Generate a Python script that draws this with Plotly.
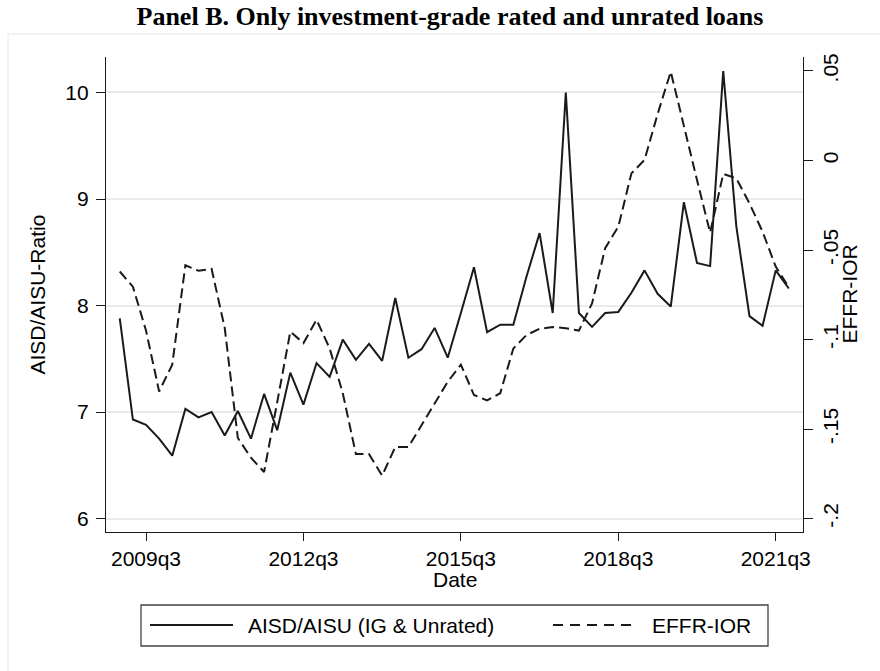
import plotly.graph_objects as go

# quarterly dates, 2009q1 .. 2021q4
quarters = [f"{y}q{q}" for y in range(2009, 2022) for q in range(1, 5)]

aisd_aisu = [7.88, 6.93, 6.88, 6.75, 6.59, 7.03, 6.95, 7.00, 6.78, 7.01,
             6.75, 7.17, 6.83, 7.37, 7.07, 7.46, 7.33, 7.68, 7.49, 7.64,
             7.48, 8.07, 7.51, 7.59, 7.79, 7.51, 7.93, 8.36, 7.75, 7.82,
             7.82, 8.27, 8.68, 7.93, 10.00, 7.93, 7.80, 7.93, 7.94, 8.12,
             8.33, 8.11, 7.99, 8.97, 8.40, 8.37, 10.20, 8.74, 7.90, 7.81,
             8.33, 8.16]

effr_ior = [-0.062, -0.0705, -0.095, -0.129, -0.114, -0.0585, -0.0616, -0.0606,
            -0.0935, -0.155, -0.166, -0.174, -0.135, -0.0956, -0.102, -0.089,
            -0.105, -0.130, -0.164, -0.164, -0.176, -0.160, -0.160, -0.148,
            -0.1357, -0.1236, -0.114, -0.131, -0.134, -0.130, -0.105, -0.0975,
            -0.094, -0.093, -0.0937, -0.095, -0.0798, -0.049, -0.037, -0.0072,
            0.0003, 0.026, 0.0496, 0.0189, -0.0109, -0.0403, -0.0075, -0.010,
            -0.024, -0.0398, -0.0593, -0.0708]

x_ticks = ["2009q3", "2012q3", "2015q3", "2018q3", "2021q3"]
y_ticks = [6, 7, 8, 9, 10]
y2_ticks = [-0.2, -0.15, -0.1, -0.05, 0, 0.05]
y2_ticktext = ["-.2", "-.15", "-.1", "-.05", "0", ".05"]

W, H = 880, 671
L, R, T, B = 106, 77, 57, 139
FONT = "Liberation Sans, Arial, Helvetica, sans-serif"
INK = "#1a1a1a"


# window pixel -> paper coords
def px(x):
    return (x - L) / (W - L - R)


def py(y):
    return (H - B - y) / (H - T - B)


fig = go.Figure()
fig.add_trace(go.Scatter(x=quarters, y=aisd_aisu, mode="lines",
                         line=dict(color=INK, width=2),
                         name="AISD/AISU (IG & Unrated)"))
fig.add_trace(go.Scatter(x=quarters, y=effr_ior, mode="lines", yaxis="y2",
                         line=dict(color=INK, width=2, dash="10px,5px"),
                         name="EFFR-IOR"))

# faint graph-region border + hand-drawn legend box (Stata style)
shapes = [
    dict(type="rect", xref="paper", yref="paper", x0=px(8), x1=px(895),
         y0=py(34), y1=py(690), line=dict(color="#e8e8e8", width=1), layer="below"),
    dict(type="rect", xref="paper", yref="paper", x0=px(141), x1=px(768),
         y0=py(605), y1=py(646), line=dict(color="#444", width=1.3)),
    dict(type="line", xref="paper", yref="paper", x0=px(150), x1=px(233),
         y0=py(625), y1=py(625), line=dict(color=INK, width=2)),
    dict(type="line", xref="paper", yref="paper", x0=px(553), x1=px(634),
         y0=py(625), y1=py(625), line=dict(color=INK, width=2, dash="10px,7px")),
]

annotations = [
    dict(text="AISD/AISU (IG & Unrated)", x=px(246), y=py(625), xref="paper",
         yref="paper", xanchor="left", yanchor="middle", showarrow=False,
         font=dict(size=21, color="black", family=FONT)),
    dict(text="EFFR-IOR", x=px(650), y=py(625), xref="paper",
         yref="paper", xanchor="left", yanchor="middle", showarrow=False,
         font=dict(size=21, color="black", family=FONT)),
    dict(text="Date", x=px(454.5), y=py(579), xref="paper", yref="paper",
         xanchor="center", yanchor="middle", showarrow=False,
         font=dict(size=21, color="black", family=FONT)),
    dict(text="AISD/AISU-Ratio", x=px(37), y=py(294.5), xref="paper", yref="paper",
         xanchor="center", yanchor="middle", showarrow=False, textangle=-90,
         font=dict(size=21, color="black", family=FONT)),
    dict(text="EFFR-IOR", x=px(849), y=py(294.5), xref="paper", yref="paper",
         xanchor="center", yanchor="middle", showarrow=False, textangle=-90,
         font=dict(size=21, color="black", family=FONT)),
]

fig.update_layout(
    width=W, height=H,
    margin=dict(l=L, r=R, t=T, b=B),
    paper_bgcolor="white", plot_bgcolor="white",
    showlegend=False,
    title=dict(text="<b>Panel B. Only investment-grade rated and unrated loans</b>",
               x=450 / W, y=1 - 16 / H, xanchor="center", yanchor="middle",
               font=dict(family="Liberation Serif, Times New Roman, serif",
                         size=26, color="black")),
    font=dict(family=FONT, size=21, color="black"),
    xaxis=dict(type="category", categoryorder="array", categoryarray=quarters,
               range=[-1.05, 52.08], tickmode="array", tickvals=x_ticks,
               ticks="outside", ticklen=8, tickcolor=INK, tickwidth=1.3,
               showline=True, linecolor=INK, linewidth=1.3,
               showgrid=False, zeroline=False, tickfont=dict(size=21)),
    yaxis=dict(range=[5.874, 10.333], tickvals=y_ticks,
               ticks="outside", ticklen=9, tickcolor=INK, tickwidth=1.3,
               ticklabelstandoff=3,
               showline=True, linecolor=INK, linewidth=1.3,
               showgrid=True, gridcolor="#eaeaea", gridwidth=1.5,
               zeroline=False, tickfont=dict(size=21)),
    yaxis2=dict(overlaying="y", side="right", range=[-0.2075, 0.0578],
                tickvals=y2_ticks, ticktext=y2_ticktext, tickangle=-90,
                ticks="outside", ticklen=9, tickcolor=INK, tickwidth=1.3,
                showline=True, linecolor=INK, linewidth=1.3,
                showgrid=False, zeroline=False, tickfont=dict(size=21)),
    shapes=shapes,
    annotations=annotations,
)

# drop the browser's default 8px body margin so the figure fills the window
fig.write_html("out.html",
               config={"displayModeBar": False},
               post_script="document.body.style.margin='0';"
                           "document.body.style.overflow='hidden';")
